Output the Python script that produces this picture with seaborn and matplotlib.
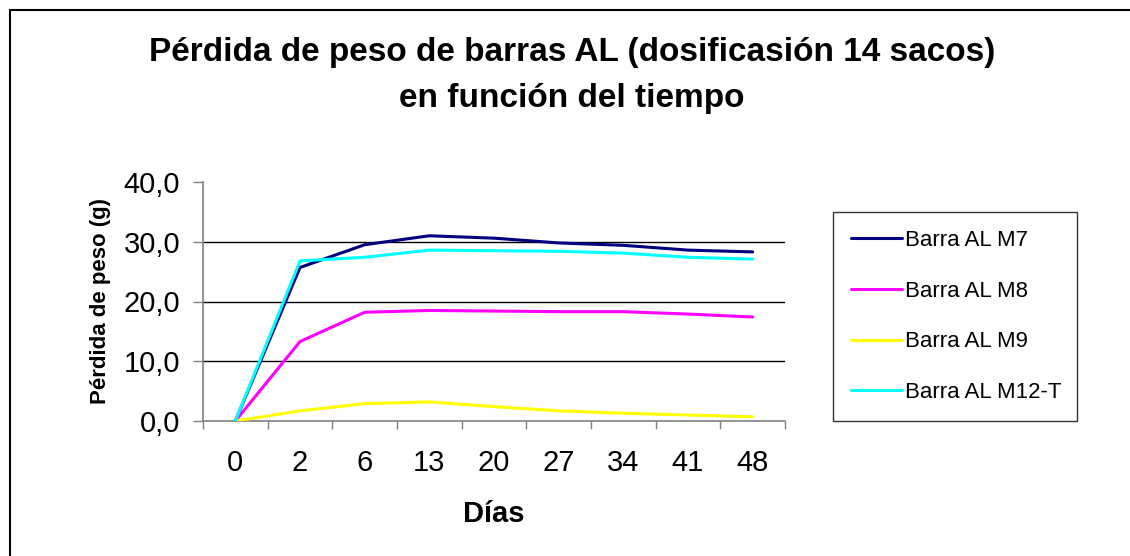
import matplotlib
matplotlib.use("Agg")
import matplotlib.pyplot as plt
import seaborn as sns
import pandas as pd
import numpy as np
from matplotlib.patches import Rectangle

dias = ["0", "2", "6", "13", "20", "27", "34", "41", "48"]
m7 = [0.0, 25.7, 29.5, 31.0, 30.6, 29.8, 29.4, 28.6, 28.3]
m8 = [0.0, 13.3, 18.2, 18.5, 18.4, 18.3, 18.3, 17.9, 17.4]
m9 = [0.0, 1.7, 2.9, 3.2, 2.4, 1.7, 1.3, 1.0, 0.7]
m12 = [0.0, 26.8, 27.4, 28.6, 28.5, 28.4, 28.1, 27.4, 27.1]
series_names = ["Barra AL M7", "Barra AL M8", "Barra AL M9", "Barra AL M12-T"]
colors = ["#000080", "#FF00FF", "#FFFF00", "#00FFFF"]
y_ticks = [0, 10, 20, 30, 40]

rows = []
for name, vals in zip(series_names, [m7, m8, m9, m12]):
    for i, (d, v) in enumerate(zip(dias, vals)):
        rows.append({"pos": i, "dia": d, "serie": name, "valor": v})
df = pd.DataFrame(rows)

sns.set_style("white")
plt.rcParams["font.family"] = ["Liberation Sans", "DejaVu Sans"]
plt.rcParams["text.color"] = "black"
plt.rcParams["axes.labelcolor"] = "black"
plt.rcParams["xtick.color"] = "black"
plt.rcParams["ytick.color"] = "black"

fig = plt.figure(figsize=(11.3, 5.56), dpi=100)
ax = fig.add_axes([203/1130, 1-421/556, (785-203)/1130, (421-182)/556])

sns.lineplot(data=df, x="pos", y="valor", hue="serie", hue_order=series_names,
             palette=colors, linewidth=2.2, ax=ax, legend=True, zorder=3)

ax.set_xlim(-0.5, 8.5)
ax.set_ylim(0, 40)
ax.set_xticks(range(len(dias)))
ax.set_xticklabels(dias, fontsize=21)
ax.set_xticks(np.arange(-0.5, len(dias), 1.0), minor=True)
ax.tick_params(axis="x", which="major", length=0, pad=20)
ax.tick_params(axis="x", which="minor", length=6, width=1, color="#808080", direction="out", bottom=True)
ax.set_yticks(y_ticks)
ax.set_yticklabels([f"{t:.1f}".replace(".", ",") for t in y_ticks], fontsize=21)
ax.tick_params(axis="y", length=7, width=1, color="#808080", labelcolor="black",
               direction="out", left=True, pad=9.5)

for t in y_ticks[1:-1]:
    ax.axhline(t, color="black", linewidth=1.0, zorder=1)

for s in ["top", "right"]:
    ax.spines[s].set_visible(False)
for s in ["left", "bottom"]:
    ax.spines[s].set_color("#808080")
    ax.spines[s].set_linewidth(1.2)

ax.set_xlabel("Días", fontsize=21, fontweight="bold", labelpad=17, color="black")
ax.set_ylabel("Pérdida de peso (g)", fontsize=16, fontweight="bold", labelpad=9, color="black")

h, l = ax.get_legend_handles_labels()
ax.legend_.remove()
leg = fig.legend(h, l, loc="lower left",
                 bbox_to_anchor=(833/1130, 1-421/556, (1077-833)/1130, (421-213)/556),
                 mode="expand", fontsize=16, frameon=True, fancybox=False,
                 edgecolor="black", labelspacing=1.34, handlelength=2.3,
                 handletextpad=0.15, borderpad=0.8, borderaxespad=0)
leg.get_frame().set_linewidth(1.0)
for t in leg.get_texts():
    t.set_color("black")

fig.text(572/1130, 1-52/556, "Pérdida de peso de barras AL (dosificasión 14 sacos)",
         ha="center", va="center", fontsize=24, fontweight="bold", color="black")
fig.text(572/1130, 1-98/556, "en función del tiempo",
         ha="center", va="center", fontsize=24, fontweight="bold", color="black")

fig.patches.append(Rectangle((10/1130, -0.1), 1.2, 1-10/556+0.1, transform=fig.transFigure,
                             fill=False, edgecolor="black", linewidth=1.5, zorder=10))

fig.savefig("out.png", dpi=100)
